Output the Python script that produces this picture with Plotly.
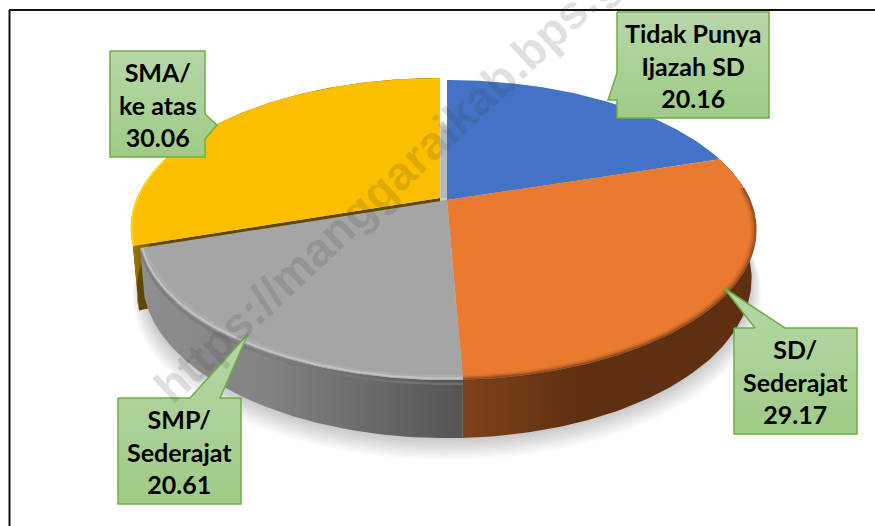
import numpy as np
import plotly.graph_objects as go

# ---- data ----
categories = ["Tidak Punya<br>Ijazah SD", "SD/<br>Sederajat", "SMP/<br>Sederajat", "SMA/<br>ke atas"]
values = [20.16, 29.17, 20.61, 30.06]
watermark = "https://manggaraikab.bps.go.id"

# ---- styles ----
TOP = ["#4472c4", "#e97a30", "#a5a5a5", "#fbbf00"]
XC, YC, A, B, K, H, SB = 447, 200, 144, 303, 0.2, 46.5, 0.985
EXPLODE = (-7, -2)


def proj(t, r=1.0, z=0.0, off=(0, 0)):
    t = np.asarray(t, dtype=float)
    u, v = r * np.sin(t), r * np.cos(t)
    w = 1 + K * v
    sx = 1 - (1 - SB) * z
    return XC + off[0] + B * u / w * sx, YC + off[1] - A * v / w + z * H / w


def arc(a, b, n=120):
    return np.linspace(a, b, n)


fig = go.Figure()


def poly(x, y, color=None, grad=None, line=None, lw=0):
    kw = dict(x=list(x) + [x[0]], y=list(y) + [y[0]], mode="lines", fill="toself",
              hoverinfo="skip", showlegend=False,
              line=dict(width=lw, color=line or "rgba(0,0,0,0)"))
    if grad is not None:
        kw["fillgradient"] = grad
    else:
        kw["fillcolor"] = color
    fig.add_trace(go.Scatter(**kw))


def curve(x, y, color, w):
    fig.add_trace(go.Scatter(x=x, y=y, mode="lines", hoverinfo="skip", showlegend=False,
                             line=dict(color=color, width=w)))


edges = np.radians(np.cumsum([0] + values) * 3.6)

# soft shadow beneath the whole pie
full = arc(0, 2 * np.pi, 240)
for i in range(9):
    sx, sy = proj(full, r=1 + 0.004 * i, z=1.0, off=(0, 1.5 * i + 2))
    poly(sx, sy, color="rgba(0,0,0,0.022)")

# gap behind the exploded slice
poly([441, 449, 449, 441], [130, 130, 198, 198], color="rgba(0,0,0,0.09)")

# exploded slice: wall and cut face
t = arc(edges[3], edges[4])
x0, y0 = proj(edges[3], off=EXPLODE)
xa, ya = proj(0.0, r=0, off=EXPLODE)
xb, yb = proj(edges[3], z=1.3, off=EXPLODE)
poly([xa, x0, xb, xa], [ya, y0, yb, ya + H], color="#5f4700")
tx, ty = proj(t, off=EXPLODE)
bx, by = proj(t, z=1.3, off=EXPLODE)
poly(list(tx) + list(bx[::-1]), list(ty) + list(by[::-1]),
     grad=dict(type="horizontal", colorscale=[[0, "#a87c00"], [0.03, "#8a6600"], [1, "#6a4f00"]]))

# slice tops, walls of the two front slices
offs = [(0, 0), (0, 0), (0, 0), EXPLODE]
wall = {1: [[0, "#7f421c"], [0.4, "#5e2f11"], [1, "#5e2f11"]],
        2: [[0, "#8e8e8e"], [0.4, "#828282"], [1, "#545454"]]}
for i in [3, 0, 1, 2]:
    t = arc(edges[i], edges[i + 1])
    if i in wall:
        tx, ty = proj(t)
        bx, by = proj(t, z=1.0)
        poly(list(tx) + list(bx[::-1]), list(ty) + list(by[::-1]),
             grad=dict(type="horizontal", colorscale=wall[i],
                       start=float(min(tx.min(), bx.min())), stop=float(max(tx.max(), bx.max()))))
    tx, ty = proj(t, off=offs[i])
    ax, ay = proj(0.0, r=0, off=offs[i])
    poly([ax] + list(tx), [ay] + list(ty), color=TOP[i])

# rim shading along the edges
t = arc(edges[1] + 0.22, edges[2], 90)
for r, a, w in [(0.998, 0.5, 2.5), (0.992, 0.25, 2.5), (0.985, 0.1, 2.5)]:
    curve(*proj(t, r=r), "rgba(94,47,17,%s)" % a, w)
t = arc(edges[2], edges[3], 90)
curve(*proj(t, r=0.999, z=0.07), "rgba(120,120,120,0.7)", 2.5)
curve(*proj(t, r=0.993), "rgba(215,215,215,0.6)", 2.0)
curve(*proj(t, r=0.984), "rgba(185,185,185,0.35)", 2.5)
t = arc(edges[3], edges[3] + 0.6, 60)
curve(*proj(t, r=0.997, off=EXPLODE), "rgba(255,215,0,0.9)", 2)

# ---- callouts ----
callouts = [
    ([617, 617, 608, 617, 617, 769, 769], [12, 73, 100, 100, 118, 118, 12], 0, 693, 65),
    ([734, 755, 724, 785, 857, 857, 734], [328, 328, 288, 328, 328, 434, 434], 1, 795.5, 381),
    ([118, 190, 248, 220, 241, 241, 118], [398, 398, 334, 398, 398, 504, 504], 2, 179.5, 451),
    ([110, 205, 205, 217, 205, 205, 110], [51, 51, 114, 125, 139, 157, 157], 3, 157.5, 104),
]
annotations = []
for cx, cy, i, lx, ly in callouts:
    poly(cx, cy, line="#70ad47", lw=1.5,
         grad=dict(type="vertical", colorscale=[[0, "#b6d7a8"], [1, "#9fcb86"]],
                   start=min(cy), stop=max(cy)))
    annotations.append(dict(x=lx, y=ly, xref="x", yref="y", showarrow=False, align="center",
                            text="<b>%s<br>%.2f</b>" % (categories[i], values[i]),
                            font=dict(family="Lato", size=25, color="#000000")))

annotations.append(dict(x=416, y=156, xref="x", yref="y", showarrow=False, textangle=-43,
                        text="<b>%s</b>" % watermark,
                        font=dict(family="Liberation Sans", size=47, color="rgba(60,60,60,0.16)")))

fig.update_layout(
    width=875, height=526, margin=dict(l=0, r=0, t=0, b=0),
    paper_bgcolor="white", plot_bgcolor="white",
    xaxis=dict(range=[0, 875], visible=False, fixedrange=True),
    yaxis=dict(range=[526, 0], visible=False, fixedrange=True),
    annotations=annotations,
    shapes=[
        dict(type="line", xref="x", yref="y", x0=9.5, x1=9.5, y0=10, y1=526,
             line=dict(color="#111111", width=2), layer="below"),
        dict(type="line", xref="x", yref="y", x0=9, x1=875, y0=10, y1=10,
             line=dict(color="#111111", width=2), layer="below"),
    ],
)
fig.write_html("out.html", config={"displayModeBar": False},
               post_script="document.body.style.margin='0';document.body.style.overflow='hidden';")
